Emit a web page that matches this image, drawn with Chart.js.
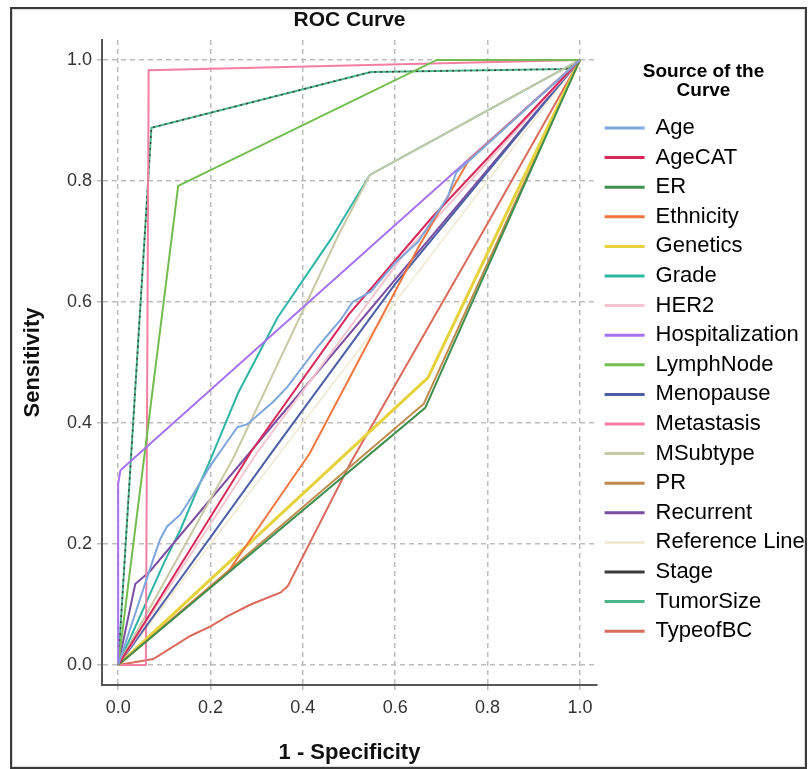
<!DOCTYPE html>
<html>
<head>
<meta charset="utf-8">
<title>ROC Curve</title>
<script src="https://cdn.jsdelivr.net/npm/chart.js@4.4.0/dist/chart.umd.min.js"></script>
<style>
  html, body { margin: 0; padding: 0; background: #fff; }
  #wrap { position: relative; width: 810px; height: 769px; }
  #frame {
    position: absolute; left: 10px; top: 7px; width: 793px; height: 758px;
    border: 2px solid #3a3a3a; box-shadow: inset 0 0 0 1px #d8d8d8; pointer-events: none;
  }
</style>
</head>
<body>
<div id="wrap">
  <canvas id="rocChart" width="810" height="769"></canvas>
  <div id="frame"></div>
</div>
<script>
const tickValues = [0, 0.2, 0.4, 0.6, 0.8, 1];

const curveNames = ["Age", "AgeCAT", "ER", "Ethnicity", "Genetics", "Grade", "HER2",
  "Hospitalization", "LymphNode", "Menopause", "Metastasis", "MSubtype", "PR",
  "Recurrent", "Reference Line", "Stage", "TumorSize", "TypeofBC"];

const curveColors = ["#7ea6dc", "#d9285a", "#3f8f4f", "#f2763f", "#e6d23a", "#2fb5a5", "#f5c6d0",
  "#a772f0", "#72bd4e", "#4c5fa6", "#f47fa2", "#c9c9a6", "#c08a4e",
  "#7b4ea3", "#f0ead2", "#3c3c3c", "#4db58a", "#d96a5c"];

// 1 - specificity (x) and sensitivity (y) for each curve
const ageFpr = [0, 0.076, 0.091, 0.106, 0.135, 0.156, 0.2, 0.258, 0.28, 0.337, 0.367, 0.432, 0.482, 0.508, 0.547, 0.6, 0.65, 0.714, 0.732, 1];
const ageTpr = [0, 0.175, 0.208, 0.229, 0.249, 0.274, 0.33, 0.393, 0.398, 0.436, 0.46, 0.526, 0.571, 0.6, 0.617, 0.665, 0.7, 0.774, 0.814, 1];
const ageCatFpr = [0, 0.29, 0.5, 0.68, 1];
const ageCatTpr = [0, 0.355, 0.58, 0.74, 1];
const erFpr = [0, 0.665, 1];
const erTpr = [0, 0.425, 1];
const ethnicityFpr = [0, 0.237, 0.415, 0.65, 0.76, 1];
const ethnicityTpr = [0, 0.153, 0.35, 0.69, 0.835, 1];
const geneticsFpr = [0, 0.671, 1];
const geneticsTpr = [0, 0.475, 1];
const gradeFpr = [0, 0.1, 0.135, 0.178, 0.2, 0.26, 0.345, 0.46, 0.545, 1];
const gradeTpr = [0, 0.17, 0.224, 0.302, 0.34, 0.45, 0.574, 0.703, 0.81, 1];
const her2Fpr = [0, 0.3, 0.62, 1];
const her2Tpr = [0, 0.35, 0.68, 1];
const hospFpr = [0, 0, 0.005, 1];
const hospTpr = [0, 0.3, 0.322, 1];
const lymphFpr = [0, 0.13, 0.69, 1];
const lymphTpr = [0, 0.792, 1, 1];
const menoFpr = [0, 0.337, 0.6, 1];
const menoTpr = [0, 0.356, 0.63, 1];
const metaFpr = [0, 0.06, 0.066, 1];
const metaTpr = [0, 0, 0.983, 1];
const msubFpr = [0, 0.25, 0.478, 0.545, 1];
const msubTpr = [0, 0.343, 0.712, 0.81, 1];
const prFpr = [0, 0.662, 1];
const prTpr = [0, 0.432, 1];
const recurFpr = [0, 0.037, 0.069, 1];
const recurTpr = [0, 0.134, 0.155, 1];
const refFpr = [0, 1];
const refTpr = [0, 1];
const stageFpr = [0, 0.072, 0.547, 0.97, 1];
const stageTpr = [0, 0.888, 0.98, 0.985, 1];
const tumorFpr = [0, 0.072, 0.547, 0.97, 1];
const tumorTpr = [0, 0.888, 0.98, 0.985, 1];
const typeFpr = [0, 0.076, 0.156, 0.2, 0.237, 0.287, 0.352, 0.367, 0.504, 0.78, 1];
const typeTpr = [0, 0.01, 0.048, 0.064, 0.081, 0.1, 0.12, 0.13, 0.335, 0.703, 1];

const curves = [
  [ageFpr, ageTpr], [ageCatFpr, ageCatTpr], [erFpr, erTpr], [ethnicityFpr, ethnicityTpr],
  [geneticsFpr, geneticsTpr], [gradeFpr, gradeTpr], [her2Fpr, her2Tpr], [hospFpr, hospTpr],
  [lymphFpr, lymphTpr], [menoFpr, menoTpr], [metaFpr, metaTpr], [msubFpr, msubTpr],
  [prFpr, prTpr], [recurFpr, recurTpr], [refFpr, refTpr], [stageFpr, stageTpr],
  [tumorFpr, tumorTpr], [typeFpr, typeTpr]
];

const fontFamily = "'Liberation Sans', Arial, sans-serif";
Chart.defaults.font.family = fontFamily;

const datasets = curveNames.map((name, i) => {
  let width = 2;
  let order = 0;
  if (name === "Genetics") width = 3;
  if (name === "Reference Line") { width = 1.5; order = 5; }
  if (name === "Grade") order = 1; // sits under MSubtype where they share a segment
  return {
    label: name,
    data: curves[i][0].map((x, j) => ({ x: x, y: curves[i][1][j] })),
    borderColor: curveColors[i],
    backgroundColor: curveColors[i],
    borderWidth: name === "Stage" ? 1.5 : width,
    borderDash: name === "Stage" ? [2, 4] : [],
    order: order,
    pointRadius: 0,
    showLine: true,
    tension: 0
  };
});

const gridStyle = { color: "#bdbdbd", lineWidth: 1.5, tickLength: 5, tickColor: "#bdbdbd" };
const borderStyle = { color: "#555", width: 2, dash: [5, 4] };

new Chart(document.getElementById("rocChart"), {
  type: "scatter",
  data: { datasets: datasets },
  options: {
    responsive: false,
    animation: false,
    layout: { padding: 0 },
    plugins: {
      title: {
        display: true,
        text: "ROC Curve",
        fullSize: false,
        color: "#111",
        font: { size: 21, weight: "bold", lineHeight: 1.2 },
        padding: { top: 8, bottom: 6.8 }
      },
      legend: {
        position: "right",
        align: "start",
        maxWidth: 213,
        title: {
          display: true,
          text: ["Source of the", "Curve"],
          color: "#000",
          font: { size: 19, weight: "bold", lineHeight: 1 },
          padding: { top: 62.5, bottom: 27.9 }
        },
        labels: {
          boxWidth: 40,
          boxHeight: 3,
          padding: 7.6,
          color: "#1a1a1a",
          font: { size: 22 },
          // keep legend in dataset order, drawn as short line samples
          generateLabels: (chart) => chart.data.datasets.map((ds, i) => ({
            text: ds.label,
            fillStyle: ds.borderColor,
            strokeStyle: ds.borderColor,
            lineWidth: 0,
            hidden: false,
            datasetIndex: i
          }))
        }
      },
      tooltip: { enabled: false }
    },
    scales: {
      x: {
        type: "linear",
        min: -0.035,
        max: 1.037,
        afterFit: (s) => { s.height = 84; },
        afterBuildTicks: (s) => { s.ticks = tickValues.map((v) => ({ value: v })); },
        ticks: { callback: (v) => v.toFixed(1), color: "#333", font: { size: 18 }, padding: 7, maxRotation: 0 },
        grid: gridStyle,
        border: borderStyle,
        title: {
          display: true,
          text: "1 - Specificity",
          color: "#111",
          font: { size: 22, weight: "bold" },
          padding: { top: 0, bottom: 3 }
        }
      },
      y: {
        type: "linear",
        min: -0.033,
        max: 1.033,
        afterFit: (s) => { s.width = 102; },
        afterBuildTicks: (s) => { s.ticks = tickValues.map((v) => ({ value: v })); },
        ticks: { callback: (v) => v.toFixed(1), color: "#333", font: { size: 18 }, padding: 5 },
        grid: gridStyle,
        border: borderStyle,
        title: {
          display: true,
          text: "Sensitivity",
          color: "#111",
          font: { size: 22, weight: "bold" },
          padding: { top: 20, bottom: 0 }
        }
      }
    }
  }
});
</script>
</body>
</html>
